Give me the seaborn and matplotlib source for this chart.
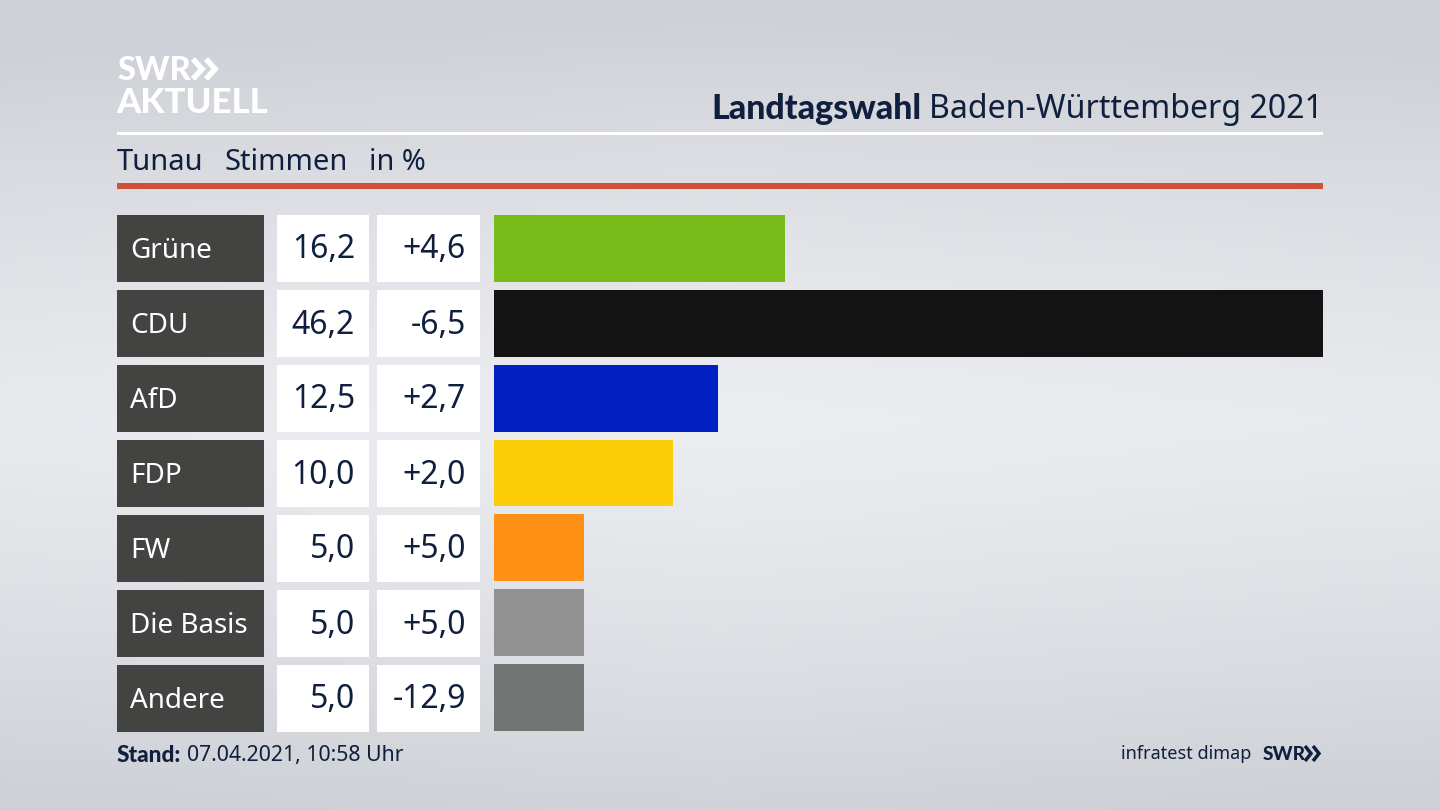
import numpy as np
import pandas as pd
import matplotlib.pyplot as plt
from matplotlib.patches import Rectangle
import seaborn as sns

parties = ['Grüne', 'CDU', 'AfD', 'FDP', 'FW', 'Die Basis', 'Andere']
stimmen = [16.2, 46.2, 12.5, 10.0, 5.0, 5.0, 5.0]
diff_labels = ['+4,6', '-6,5', '+2,7', '+2,0', '+5,0', '+5,0', '-12,9']
bar_colors = ['#79bc1a', '#131313', '#0020c4', '#fdcc08', '#ff9016', '#929292', '#727373']

NAVY = '#0f1f3d'
BOLD = 'Lato'
W, H = 1440, 810

sns.set_theme(style='white')
plt.rcParams['font.family'] = ['Noto Sans', 'DejaVu Sans']

df = pd.DataFrame({'partei': parties, 'stimmen': stimmen})

fig = plt.figure(figsize=(14.4, 8.1), dpi=100)

# background gradient, lightest a bit below the middle
bg = fig.add_axes([0, 0, 1, 1], zorder=0)
yy, xx = np.mgrid[0:1:162j, 0:1:288j]
shade = 1 - np.clip(np.abs(yy - 0.52) / 0.52, 0, 1) ** 1.3
shade = shade - 0.12 * np.abs(xx - 0.5) * 2
c_dark = np.array([205, 208, 214]) / 255
c_light = np.array([236, 237, 241]) / 255
img = c_dark + (c_light - c_dark) * np.clip(shade, 0, 1)[..., None]
bg.imshow(img, aspect='auto', extent=[0, W, H, 0])
bg.axis('off')

# header lines and panels, in pixel coords
bg.add_patch(Rectangle((117, 132), 1206, 3, color='white', lw=0))
bg.add_patch(Rectangle((117, 183), 1206, 6, color='#cf5238', lw=0))

for i, (name, val, d) in enumerate(zip(parties, stimmen, diff_labels)):
    top = 215 + 75 * i
    mid = top + 35
    bg.add_patch(Rectangle((117, top), 147, 66.5, color='#434341', lw=0))
    bg.add_patch(Rectangle((277, top), 92, 66.5, color='white', lw=0))
    bg.add_patch(Rectangle((377, top), 103, 66.5, color='white', lw=0))
    bg.text(130, mid + 1, name, color='white', fontsize=20, va='center', ha='left')
    bg.text(355, mid, f'{val:.1f}'.replace('.', ','), color=NAVY, fontsize=23, va='center', ha='right')
    bg.text(466, mid, d, color=NAVY, fontsize=23, va='center', ha='right')

# bars
ax = fig.add_axes([494 / W, 1 - 731 / H, 829 / W, 516 / H], zorder=1)
sns.barplot(data=df, y='partei', x='stimmen', hue='partei', palette=bar_colors,
            legend=False, width=67 / 75, saturation=1, linewidth=0, ax=ax)
ax.set_xlim(0, max(stimmen))
ax.set_ylim(6 + 0.44667, -0.44667)
ax.patch.set_alpha(0)
ax.axis('off')

# header text
bg.text(921, 109, 'Landtagswahl', color=NAVY, fontsize=24.5, family=BOLD, fontweight='black', va='center', ha='right')
bg.text(1323, 109, 'Baden-Württemberg 2021', color=NAVY, fontsize=23.1, va='center', ha='right')
bg.text(117, 162, 'Tunau', color=NAVY, fontsize=21, va='center', ha='left')
bg.text(225, 162, 'Stimmen', color=NAVY, fontsize=21, va='center', ha='left')
bg.text(369, 162, 'in %', color=NAVY, fontsize=20.7, va='center', ha='left')

# logo
bg.text(117, 70, 'SWR', color='white', fontsize=23.5, family=BOLD, fontweight='black', va='center', ha='left')
bg.text(116, 103, 'AKTUELL', color='white', fontsize=25, family=BOLD, fontweight='black', va='center', ha='left')
for x0 in (193, 206):
    bg.plot([x0, x0 + 9, x0], [59, 69, 79], color='white', lw=4, solid_joinstyle='miter', solid_capstyle='butt')

# footer
bg.text(117, 755, 'Stand:', color=NAVY, fontsize=16.3, family=BOLD, fontweight='black', va='center', ha='left')
bg.text(187, 755, '07.04.2021, 10:58 Uhr', color=NAVY, fontsize=15.3, va='center', ha='left')
bg.text(1251, 754, 'infratest dimap', color=NAVY, fontsize=13, va='center', ha='right')
bg.text(1263, 754, 'SWR', color=NAVY, fontsize=13.7, family=BOLD, fontweight='black', va='center', ha='left')
for x0 in (1305, 1313):
    bg.plot([x0, x0 + 6, x0], [746, 753.5, 761], color=NAVY, lw=2.5, solid_joinstyle='miter', solid_capstyle='butt')

bg.set_xlim(0, W)
bg.set_ylim(H, 0)

plt.savefig('out.png', dpi=100)
plt.close()
